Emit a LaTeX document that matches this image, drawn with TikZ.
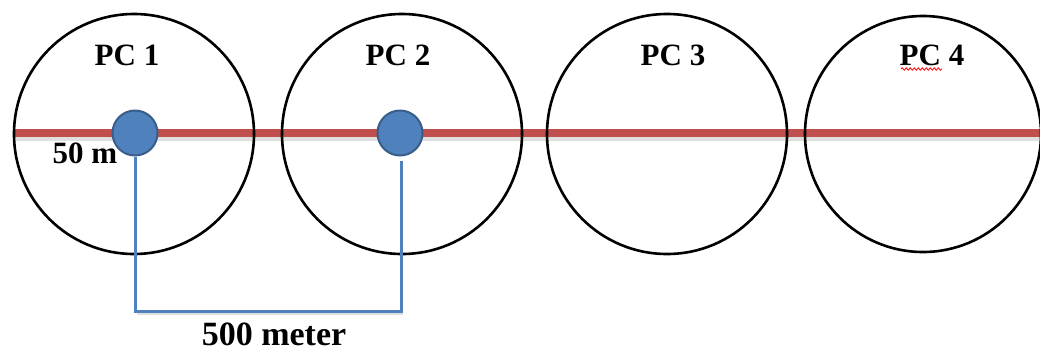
\documentclass[tikz,border=0pt]{standalone}
\usepackage{fontspec}
\setmainfont{Liberation Serif}
\usetikzlibrary{decorations.pathmorphing}
\definecolor{redline}{HTML}{C0504D}
\definecolor{bluefill}{HTML}{4F81BD}
\definecolor{blueedge}{HTML}{385D8A}
\begin{document}
\begin{tikzpicture}[x=1pt,y=-1pt,
  zone/.style={circle,draw=black,line width=2.6pt,minimum size=240pt,inner sep=0pt},
  pc/.style={circle,fill=bluefill,draw=blueedge,line width=2pt,minimum size=45pt,inner sep=0pt},
  lbl/.style={font=\fontsize{31}{36}\selectfont\bfseries,anchor=base,inner sep=0pt},
  bus/.style={draw=redline,line width=8pt},
  busshadow/.style={draw=black!35,line width=5pt,opacity=0.35},
  link/.style={draw=bluefill,line width=3pt},
  linkshadow/.style={draw=black!35,line width=2.5pt,opacity=0.35},
  squiggle/.style={draw=red,line width=0.8pt,decorate,decoration={snake,amplitude=1.2pt,segment length=4pt}}]
\useasboundingbox (0,0) rectangle (1040,354);
\fill[white] (0,0) rectangle (1040,354);
% coordinates
\coordinate (busL) at (13,133);
\coordinate (busR) at (1040,133);
\coordinate (b1) at (135,311);
\coordinate (b2) at (401,311);
% shadows
\draw[busshadow] ([yshift=-5pt]busL) -- ([yshift=-5pt]busR);
\draw[linkshadow] ([shift={(2pt,-3pt)}]b1) -- ([shift={(2pt,-3pt)}]b2);
% bus line
\draw[bus] (busL) -- (busR);
% zones
\node[zone] (c1) at (134,134) {};
\node[zone] (c2) at (402,134) {};
\node[zone] (c3) at (667,134) {};
\node[zone,minimum size=236pt] (c4) at (923,134) {};
% labels
\node[lbl] (l1) at (127,65) {PC 1};
\node[lbl] (l2) at (398,65) {PC 2};
\node[lbl] (l3) at (673,65) {PC 3};
\node[lbl] (l4) at (932,65) {PC 4};
\coordinate (sqA) at (901,69);
\coordinate (sqB) at (942,69);
\draw[squiggle] (sqA) -- (sqB);
\node[lbl] (r50) at (85,163) {50 m};
% PCs
\node[pc] (d1) at (135,133) {};
\node[pc] (d2) at (400,133) {};
% link
\draw[link] (d1.south) -- (b1) -- (b2) -- ([yshift=-4pt]d2.south -| b2);
\node[lbl,font=\fontsize{34}{40}\selectfont\bfseries] (len) at (274,345) {500 meter};
\end{tikzpicture}
\end{document}
